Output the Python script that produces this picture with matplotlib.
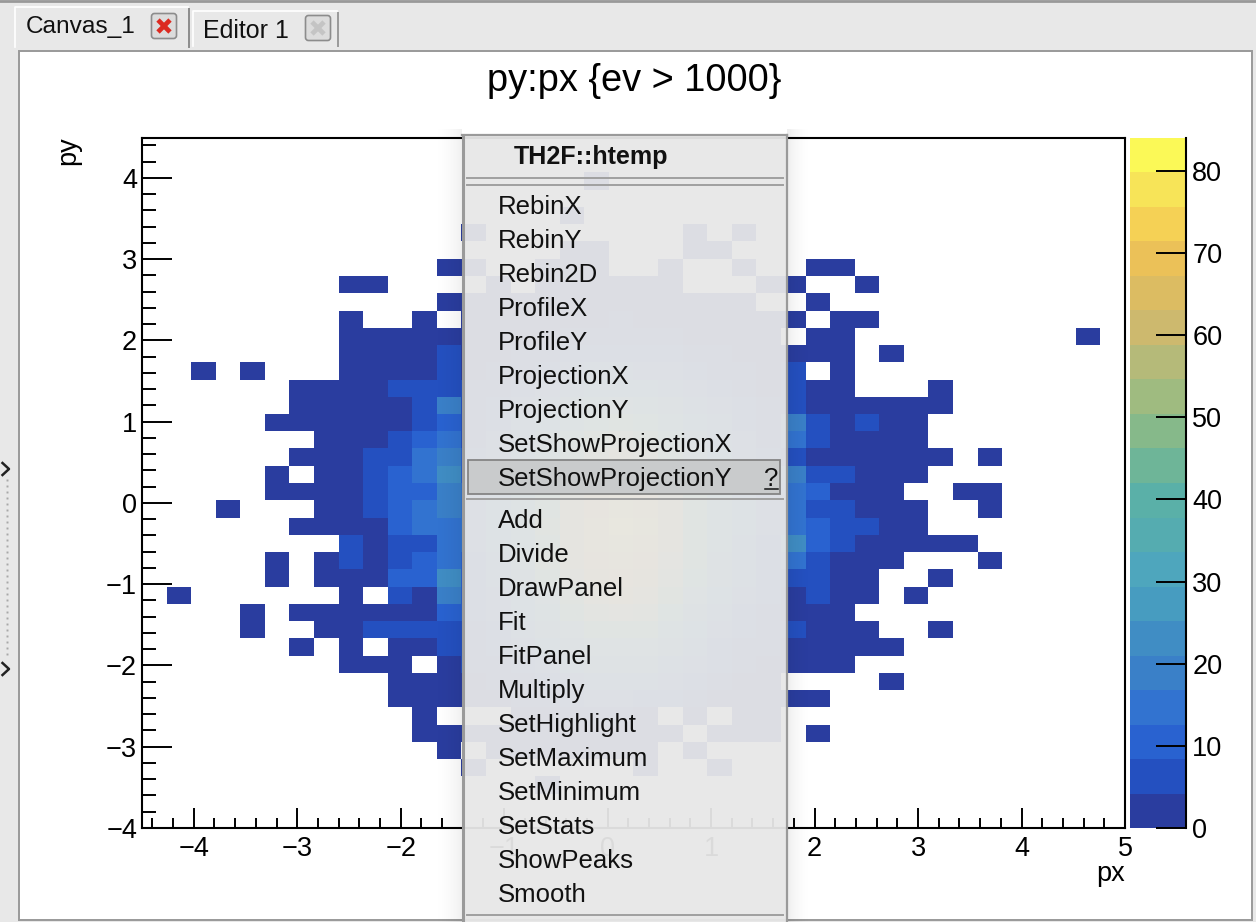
import numpy as np
import matplotlib
matplotlib.use("Agg")
import matplotlib.pyplot as plt
from matplotlib.colors import ListedColormap, BoundaryNorm
from matplotlib.patches import Rectangle, FancyBboxPatch
from matplotlib.ticker import MultipleLocator

plt.rcParams['font.family'] = ['Liberation Sans', 'DejaVu Sans']

W, H = 1256, 922
title = "py:px {ev > 1000}"
x_edges_range = (-4.5, 5.0)
y_edges_range = (-4.0, 4.49)
n_bins = 40
level_step = 4.2
n_levels = 20
palette = ['#2a3d9f', '#2450c0', '#2962d0', '#3273d0', '#3a80c8', '#408dc4', '#479cc0', '#4ea6bd',
           '#55acb0', '#5ab0a8', '#6eb598', '#86b98a', '#9fbb80', '#b5ba79', '#cdb96e', '#dcbc62',
           '#ebc158', '#f5d155', '#f7e458', '#fbf957']
menu_header = "TH2F::htemp"
menu_items_top = ["RebinX", "RebinY", "Rebin2D", "ProfileX", "ProfileY", "ProjectionX", "ProjectionY",
                  "SetShowProjectionX", "SetShowProjectionY"]
menu_items_bottom = ["Add", "Divide", "DrawPanel", "Fit", "FitPanel", "Multiply", "SetHighlight",
                     "SetMaximum", "SetMinimum", "SetStats", "ShowPeaks", "Smooth"]

# Rows run from top of the plot (high py) to the bottom
left_counts = [
 [0,0,0,0,0,0,0,0,0,0,0,0,0],
 [0,0,0,0,0,0,0,0,0,0,0,0,0],
 [0,0,0,0,0,0,0,0,0,0,0,0,0],
 [0,0,0,0,0,0,0,0,0,0,0,0,0],
 [0,0,0,0,0,0,0,0,0,0,0,0,0],
 [0,0,0,0,0,0,0,0,0,0,0,0,0],
 [0,0,0,0,0,0,0,0,0,0,0,0,0],
 [0,0,0,0,0,0,0,0,0,0,0,0,2],
 [0,0,0,0,0,0,0,0,2,2,0,0,0],
 [0,0,0,0,0,0,0,0,0,0,0,0,2],
 [0,0,0,0,0,0,0,0,2,0,0,2,0],
 [0,0,0,0,0,0,0,0,2,2,2,2,2],
 [0,0,0,0,0,0,0,0,2,2,2,2,6],
 [0,0,2,0,2,0,0,0,2,2,2,2,6],
 [0,0,0,0,0,0,2,2,2,2,6,6,6],
 [0,0,0,0,0,0,2,2,2,2,2,6,19],
 [0,0,0,0,0,2,2,2,2,2,2,6,10],
 [0,0,0,0,0,0,0,2,2,2,6,10,15],
 [0,0,0,0,0,0,2,2,2,6,6,15,19],
 [0,0,0,0,0,2,0,2,2,6,10,15,23],
 [0,0,0,0,0,2,2,2,2,6,10,10,19],
 [0,0,0,2,0,0,0,2,2,6,10,15,19],
 [0,0,0,0,0,0,2,2,2,2,10,15,15],
 [0,0,0,0,0,0,0,0,6,2,6,6,15],
 [0,0,0,0,0,2,0,2,6,2,6,10,15],
 [0,0,0,0,0,2,0,2,2,2,10,10,23],
 [0,2,0,0,0,0,0,0,2,0,6,2,19],
 [0,0,0,0,2,0,2,2,2,2,2,2,10],
 [0,0,0,0,2,0,0,2,2,6,6,6,6],
 [0,0,0,0,0,0,2,0,2,0,2,2,6],
 [0,0,0,0,0,0,0,0,2,2,2,0,2],
 [0,0,0,0,0,0,0,0,0,0,2,2,2],
 [0,0,0,0,0,0,0,0,0,0,2,2,2],
 [0,0,0,0,0,0,0,0,0,0,0,2,0],
 [0,0,0,0,0,0,0,0,0,0,0,2,2],
 [0,0,0,0,0,0,0,0,0,0,0,0,2],
 [0,0,0,0,0,0,0,0,0,0,0,0,0],
 [0,0,0,0,0,0,0,0,0,0,0,0,0],
 [0,0,0,0,0,0,0,0,0,0,0,0,0],
 [0,0,0,0,0,0,0,0,0,0,0,0,0],
]
centre_counts = [
 [0,0,0,0,0,0,0,0,0,0,0,0,0],
 [0,0,0,0,0,0,0,0,0,0,0,0,0],
 [0,0,0,0,0,1,0,0,0,0,0,0,0],
 [0,0,0,0,0,0,0,0,0,0,0,0,0],
 [0,0,0,0,1,0,0,0,0,0,0,0,0],
 [1,0,0,0,0,0,0,0,0,1,0,1,0],
 [0,0,0,0,1,1,0,0,0,1,1,0,0],
 [1,0,0,1,1,1,0,0,1,0,0,1,0],
 [0,1,0,1,1,1,1,1,1,0,0,0,1],
 [1,1,1,2,2,3,3,2,2,1,1,1,0],
 [1,2,2,3,4,4,5,4,3,3,2,1,1],
 [2,2,3,4,6,7,8,7,6,4,3,2,1],
 [3,3,5,7,9,12,12,11,9,6,5,3,2],
 [4,5,7,10,14,17,18,16,13,10,7,5,3],
 [5,7,10,14,19,24,25,23,19,14,10,7,4],
 [6,9,14,19,26,32,34,32,26,19,13,9,6],
 [7,11,17,24,32,40,43,40,33,24,17,11,7],
 [8,13,20,28,38,47,51,48,39,29,20,13,8],
 [10,15,24,33,44,54,59,55,45,34,24,15,10],
 [12,18,27,38,50,61,67,63,51,38,27,17,11],
 [13,20,30,42,55,67,73,69,57,42,30,19,12],
 [15,22,32,45,59,71,77,73,60,45,32,21,13],
 [14,22,33,47,62,74,80,76,62,46,32,21,13],
 [13,21,32,46,62,72,78,75,60,45,31,20,12],
 [12,20,31,47,60,70,75,70,57,43,29,18,11],
 [11,18,28,43,56,65,70,65,53,39,27,17,10],
 [10,15,24,37,50,59,63,59,47,34,23,14,9],
 [9,13,21,31,43,51,55,51,40,29,19,12,7],
 [7,11,17,26,36,43,46,43,33,24,15,9,6],
 [6,9,14,21,29,35,37,34,26,18,12,7,5],
 [5,7,11,16,22,27,28,26,19,13,9,5,3],
 [3,5,8,12,16,19,20,18,13,9,6,4,2],
 [2,3,5,8,11,13,13,12,9,6,4,2,1],
 [0,0,2,3,5,6,6,4,0,2,0,1,1],
 [2,1,1,3,3,4,3,3,2,0,1,1,1],
 [0,1,1,2,2,2,2,1,0,1,0,0,0],
 [1,0,0,0,0,0,0,1,0,0,1,0,0],
 [0,0,0,1,0,0,0,0,0,0,0,0,0],
 [0,0,0,0,0,0,0,0,0,0,0,0,0],
 [0,0,0,0,0,0,0,0,0,0,0,0,0],
]
right_counts = [
 [0,0,0,0,0,0,0,0,0,0,0,0,0,0],
 [0,0,0,0,0,0,0,0,0,0,0,0,0,0],
 [0,0,0,0,0,0,0,0,0,0,0,0,0,0],
 [0,0,0,0,0,0,0,0,0,0,0,0,0,0],
 [0,0,0,0,0,0,0,0,0,0,0,0,0,0],
 [0,0,0,0,0,0,0,0,0,0,0,0,0,0],
 [0,0,0,0,0,0,0,0,0,0,0,0,0,0],
 [0,2,2,0,0,0,0,0,0,0,0,0,0,0],
 [2,0,0,2,0,0,0,0,0,0,0,0,0,0],
 [0,2,0,0,0,0,0,0,0,0,0,0,0,0],
 [2,0,2,2,0,0,0,0,0,0,0,0,0,0],
 [0,2,2,0,0,0,0,0,0,0,0,0,2,0],
 [2,2,2,0,2,0,0,0,0,0,0,0,0,0],
 [6,0,2,0,0,0,0,0,0,0,0,0,0,0],
 [6,2,2,0,0,0,2,0,0,0,0,0,0,0],
 [6,2,2,2,2,2,2,0,0,0,0,0,0,0],
 [19,6,2,6,2,2,0,0,0,0,0,0,0,0],
 [15,6,2,2,2,2,0,0,0,0,0,0,0,0],
 [6,2,2,2,2,2,2,0,2,0,0,0,0,0],
 [19,6,6,2,2,2,0,0,0,0,0,0,0,0],
 [15,10,2,2,2,0,0,2,2,0,0,0,0,0],
 [15,6,6,2,2,2,0,0,2,0,0,0,0,0],
 [15,10,6,6,2,2,0,0,0,0,0,0,0,0],
 [23,10,6,2,2,2,2,2,0,0,0,0,0,0],
 [15,6,2,2,2,0,0,0,2,0,0,0,0,0],
 [6,6,2,2,0,0,2,0,0,0,0,0,0,0],
 [2,6,2,2,0,2,0,0,0,0,0,0,0,0],
 [2,2,2,0,0,0,0,0,0,0,0,0,0,0],
 [6,2,2,2,0,0,2,0,0,0,0,0,0,0],
 [2,2,2,2,2,0,0,0,0,0,0,0,0,0],
 [2,2,2,0,0,0,0,0,0,0,0,0,0,0],
 [0,0,0,0,2,0,0,0,0,0,0,0,0,0],
 [2,2,0,0,0,0,0,0,0,0,0,0,0,0],
 [0,0,0,0,0,0,0,0,0,0,0,0,0,0],
 [0,2,0,0,0,0,0,0,0,0,0,0,0,0],
 [0,0,0,0,0,0,0,0,0,0,0,0,0,0],
 [0,0,0,0,0,0,0,0,0,0,0,0,0,0],
 [0,0,0,0,0,0,0,0,0,0,0,0,0,0],
 [0,0,0,0,0,0,0,0,0,0,0,0,0,0],
 [0,0,0,0,0,0,0,0,0,0,0,0,0,0],
]

counts = np.hstack([np.array(left_counts), np.array(centre_counts), np.array(right_counts)])[::-1]

fig = plt.figure(figsize=(W / 100, H / 100), dpi=100, facecolor='#e8e8e8')


def px_axes(x0, y0, x1, y1, **kw):
    return fig.add_axes([x0 / W, 1 - y1 / H, (x1 - x0) / W, (y1 - y0) / H], **kw)


# window chrome
bg = fig.add_axes([0, 0, 1, 1], zorder=0)
bg.set_xlim(0, W); bg.set_ylim(H, 0); bg.axis('off')
bg.add_patch(Rectangle((19, 51), 1233, 869, fc='white', ec='#999999', lw=1.4))
bg.plot([0, W], [1, 1], color='#999999', lw=2)
bg.plot([15, 15, 188], [47, 7, 7], color='white', lw=1.2)
bg.plot([188.5, 188.5], [9, 47], color='#8c8c8c', lw=1.4)
bg.plot([193, 193, 337], [46, 11, 11], color='white', lw=1.2)
bg.plot([337.5, 337.5], [13, 46], color='#999999', lw=1.4)
bg.text(26, 27.5, "Canvas_1", fontsize=17.6, va='center', ha='left', color='#111111')
bg.text(203, 30.5, "Editor 1", fontsize=18, va='center', ha='left', color='#111111')
for cx, cy, fc, xc in [(164, 26, '#dcdcdc', '#dc2a20'), (318, 28, '#dcdcdc', '#c4c4c4')]:
    bg.add_patch(FancyBboxPatch((cx - 11, cy - 11), 22, 22, boxstyle='round,pad=1.5,rounding_size=3',
                                fc=fc, ec='#8c8c8c', lw=1.2))
    bg.plot([cx - 6, cx + 6], [cy - 6, cy + 6], color=xc, lw=3.4, solid_capstyle='butt')
    bg.plot([cx - 6, cx + 6], [cy + 6, cy - 6], color=xc, lw=3.4, solid_capstyle='butt')
bg.text(634.5, 81, title, fontsize=27.4, ha='center', va='center', color='black')
bg.text(1111, 874, "px", fontsize=19.5, ha='center', va='center', color='black')
bg.text(68, 151, "py", fontsize=19.5, ha='center', va='center', rotation=90, color='black')
for y in (469, 669):
    bg.plot([2.5, 9, 2.5], [y - 6, y, y + 6], color='#222222', lw=1.8)
bg.plot(np.full(30, 6.5), np.arange(480, 660, 6), ls='none', marker='s', ms=1.4, color='#a8a8a8', mew=0)

# histogram
ax = px_axes(142, 138, 1125, 828, zorder=1)
cmap = ListedColormap(palette)
levels = np.arange(n_levels + 1) * level_step
norm = BoundaryNorm(levels, cmap.N)
xe = np.linspace(*x_edges_range, n_bins + 1)
ye = np.linspace(*y_edges_range, n_bins + 1)
ax.pcolormesh(xe, ye, np.ma.masked_equal(counts, 0), cmap=cmap, norm=norm, linewidth=0, rasterized=True)
ax.set_xlim(*x_edges_range)
ax.set_ylim(*y_edges_range)
for s in ax.spines.values():
    s.set_linewidth(1.5)
ax.xaxis.set_major_locator(MultipleLocator(1))
ax.xaxis.set_minor_locator(MultipleLocator(0.2))
ax.yaxis.set_major_locator(MultipleLocator(1))
ax.yaxis.set_minor_locator(MultipleLocator(0.2))
ax.tick_params(axis='x', which='major', direction='in', length=14.4, width=1.4, labelsize=19.5, pad=6)
ax.tick_params(axis='x', which='minor', direction='in', length=7.2, width=1.4)
ax.tick_params(axis='y', which='major', direction='in', length=21.6, width=1.4, labelsize=19.5, pad=3.5)
ax.tick_params(axis='y', which='minor', direction='in', length=10, width=1.4)

# colour bar
cax = px_axes(1130, 138, 1186, 828, zorder=1)
cax.pcolormesh([0, 1], levels, (levels[:-1] + 0.01)[:, None], cmap=cmap, norm=norm, linewidth=0, rasterized=True)
cax.set_xlim(0, 1)
cax.set_ylim(0, levels[-1])
for k in ('top', 'bottom', 'left'):
    cax.spines[k].set_visible(False)
cax.spines['right'].set_linewidth(1.5)
cax.set_xticks([])
cax.yaxis.tick_right()
cax.yaxis.set_major_locator(MultipleLocator(10))
cax.tick_params(axis='y', direction='in', length=21.6, width=1.4, labelsize=19.5, pad=4.5)

# context menu overlay
ov = fig.add_axes([0, 0, 1, 1], zorder=5)
ov.set_xlim(0, W); ov.set_ylim(H, 0); ov.axis('off'); ov.patch.set_alpha(0)
ramp_l = np.zeros((2, 32, 4)); ramp_l[..., 3] = 0.06 * np.linspace(0, 1, 32) ** 2
ramp_r = np.zeros((2, 28, 4)); ramp_r[..., 3] = 0.07 * np.linspace(1, 0, 28) ** 2
ov.imshow(ramp_l, extent=(430, 462, H, 130), aspect='auto', interpolation='bilinear', zorder=1)
ov.imshow(ramp_r, extent=(787, 815, H, 130), aspect='auto', interpolation='bilinear', zorder=1)
ov.set_xlim(0, W); ov.set_ylim(H, 0)
ov.add_patch(Rectangle((461.5, 135), 325.5, 800, fc='#e7e7e7', ec='none', alpha=0.95, zorder=2))
ov.plot([462.5, 462.5], [135, H], color='#9a9a9a', lw=2.2, zorder=3)
ov.plot([787, 787], [135, H], color='#9a9a9a', lw=1.6, zorder=3)
ov.plot([462, 787], [135, 135], color='#9a9a9a', lw=1.6, zorder=3)
for y in (178, 185, 499, 915):
    ov.plot([467, 783], [y, y], color='#a0a0a0', lw=1.4, zorder=3)
ov.add_patch(Rectangle((468, 460), 312, 34, fc='#c9cbcc', ec='#858585', lw=1.3, zorder=3))
ov.text(514, 157, menu_header, fontsize=18.1, fontweight='bold', va='center', ha='left', color='#111111', zorder=4)
for i, s in enumerate(menu_items_top):
    ov.text(498, 207 + 34 * i, s, fontsize=18.5, va='center', ha='left', color='#111111', zorder=4)
for i, s in enumerate(menu_items_bottom):
    ov.text(498, 521 + 34 * i, s, fontsize=18.5, va='center', ha='left', color='#111111', zorder=4)
ov.text(771, 479, "?", fontsize=18.5, va='center', ha='center', color='#111111', zorder=4)
ov.plot([765, 778], [489, 489], color='#111111', lw=1.1, zorder=4)

fig.savefig("out.png", dpi=100, facecolor=fig.get_facecolor())
